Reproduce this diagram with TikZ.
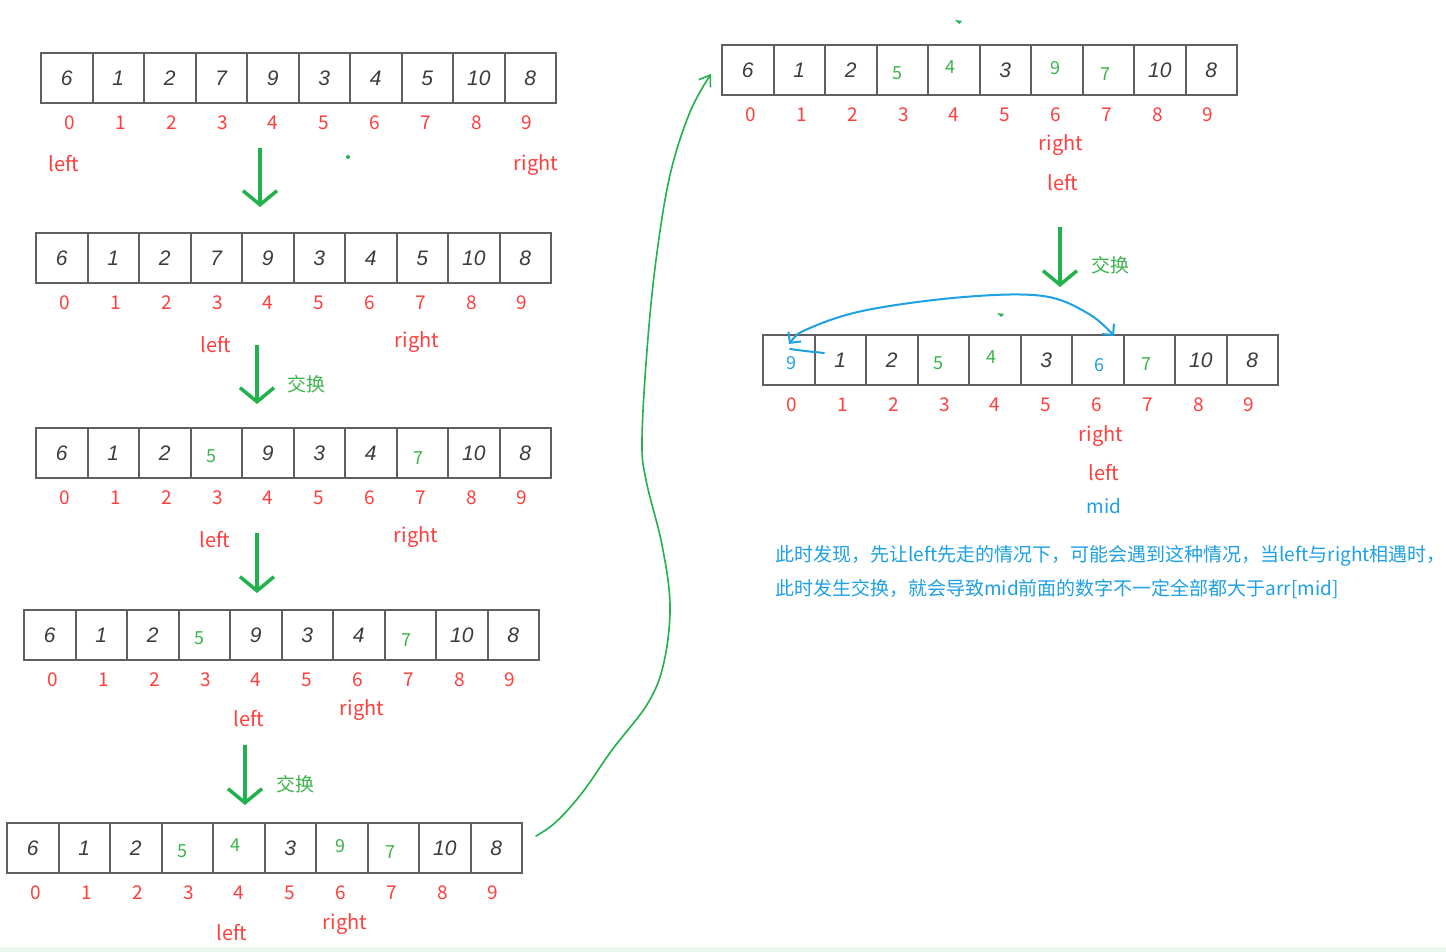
\documentclass[tikz,border=0pt]{standalone}
\usepackage{fontspec}
\setmainfont{Noto Sans CJK SC}
\newfontfamily\handfont{Liberation Sans}
\usetikzlibrary{arrows.meta,calc}
\definecolor{cred}{RGB}{255,62,62}
\definecolor{agreen}{RGB}{34,177,76}
\definecolor{dgreen}{RGB}{60,180,75}
\definecolor{cblue}{RGB}{30,160,228}
\definecolor{cellgray}{RGB}{95,95,95}
\definecolor{handgray}{RGB}{60,60,60}
\definecolor{stripe}{RGB}{232,246,238}
\tikzset{
  cell/.style={draw=cellgray, line width=2pt, minimum width=51.5pt, minimum height=50pt, inner sep=0pt},
  hd/.style={font=\handfont\itshape\fontsize{21}{21}\selectfont, text=handgray, inner sep=0pt},
  gr/.style={font=\fontsize{18}{18}\selectfont, text=dgreen, inner sep=0pt},
  bl/.style={font=\fontsize{18}{18}\selectfont, text=cblue, inner sep=0pt},
  idx/.style={font=\fontsize{19}{19}\selectfont, text=cred, inner sep=0pt},
  ptr/.style={font=\fontsize{20}{20}\selectfont, text=cred, inner sep=0pt},
  midlbl/.style={font=\fontsize{19}{19}\selectfont, text=cblue, inner sep=0pt},
  swaplbl/.style={font=\fontsize{19}{19}\selectfont, text=dgreen, inner sep=0pt},
  note/.style={font=\fontsize{19}{19}\selectfont, text=cblue, inner sep=0pt, anchor=west},
  garrow/.style={draw=agreen, line width=3.5pt, -{Straight Barb[length=14pt,width=34pt]}},
}
\newcommand\arr[4]{%
  \foreach [count=\i from 0] \v/\s/\dx/\dy in {#4} {
    \node[cell] (#1c\i) at ({#2+25.75+51.5*\i},{#3+25}) {};
    \node[\s] (#1v\i) at ({#2+25.75+51.5*\i+\dx},{#3+25+\dy}) {\v};
    \node[idx] (#1i\i) at ({#2+29+50.8*\i},{#3+70}) {\i};
  }}
\begin{document}
\begin{tikzpicture}[x=1pt,y=-1pt]
\useasboundingbox (0,0) rectangle (1446,952);
\fill[white] (0,0) rectangle (1446,952);
\fill[stripe] (0,947) rectangle (1446,952);

% arrays
\arr{a}{41}{53}{6/hd/0/0,1/hd/0/0,2/hd/0/0,7/hd/0/0,9/hd/0/0,3/hd/0/0,4/hd/0/0,5/hd/0/0,10/hd/0/0,8/hd/0/0}
\arr{b}{36}{233}{6/hd/0/0,1/hd/0/0,2/hd/0/0,7/hd/0/0,9/hd/0/0,3/hd/0/0,4/hd/0/0,5/hd/0/0,10/hd/0/0,8/hd/0/0}
\arr{c}{36}{428}{6/hd/0/0,1/hd/0/0,2/hd/0/0,5/gr/-5/3,9/hd/0/0,3/hd/0/0,4/hd/0/0,7/gr/-4/5,10/hd/0/0,8/hd/0/0}
\arr{d}{24}{610}{6/hd/0/0,1/hd/0/0,2/hd/0/0,5/gr/-5/3,9/hd/0/0,3/hd/0/0,4/hd/0/0,7/gr/-4/5,10/hd/0/0,8/hd/0/0}
\arr{e}{7}{823}{6/hd/0/0,1/hd/0/0,2/hd/0/0,5/gr/-5/3,4/gr/-3/-3,3/hd/0/0,9/gr/-1/-2,7/gr/-3/4,10/hd/0/0,8/hd/0/0}
\arr{f}{722}{45}{6/hd/0/0,1/hd/0/0,2/hd/0/0,5/gr/-5/3,4/gr/-3/-3,3/hd/0/0,9/gr/-1/-2,7/gr/-3/4,10/hd/0/0,8/hd/0/0}
\arr{g}{763}{335}{9/bl/3/3,1/hd/0/0,2/hd/0/0,5/gr/-5/3,4/gr/-3/-3,3/hd/0/0,6/bl/2/5,7/gr/-3/4,10/hd/0/0,8/hd/0/0}

% pointer labels
\node[ptr] (al) at (64,164) {left};
\node[ptr] (ar) at (536,165) {right};
\node[ptr] (bl) at (216,345) {left};
\node[ptr] (br) at (417,342) {right};
\node[ptr] (cl) at (215,540) {left};
\node[ptr] (cr) at (416,537) {right};
\node[ptr] (dl) at (249,719) {left};
\node[ptr] (dr) at (362,710) {right};
\node[ptr] (el) at (232,933) {left};
\node[ptr] (er) at (345,924) {right};
\node[ptr] (fr) at (1061,145) {right};
\node[ptr] (fl) at (1063,183) {left};
\node[ptr] (gr) at (1101,436) {right};
\node[ptr] (gl) at (1104,473) {left};
\node[midlbl] (gm) at (1104,506) {mid};

% down arrows
\coordinate (s1) at (260,148); \coordinate (t1) at (260,207);
\coordinate (s2) at (257,345); \coordinate (t2) at (257,404);
\coordinate (s3) at (257,533); \coordinate (t3) at (257,593);
\coordinate (s4) at (245,745); \coordinate (t4) at (245,805);
\coordinate (s5) at (1060,227); \coordinate (t5) at (1060,287);
\draw[garrow] (s1) -- (t1);
\draw[garrow] (s2) -- (t2);
\draw[garrow] (s3) -- (t3);
\draw[garrow] (s4) -- (t4);
\draw[garrow] (s5) -- (t5);
\node[swaplbl] (x2) at (306,384) {交换};
\node[swaplbl] (x4) at (295,784) {交换};
\node[swaplbl] (x5) at (1110,265) {交换};

% small stray marks
\fill[agreen] (348,157) circle (2pt);
\fill[agreen] (955,20) -- (962,21) -- (959,24) -- cycle;
\fill[agreen] (997,313) -- (1004,314) -- (1001,317) -- cycle;

% big green curve
\draw[agreen, line width=1.6pt, line cap=round, -{Straight Barb[length=10pt,width=14pt]}]
  plot[smooth, tension=0.6] coordinates {(536,836) (556,822) (582,793) (612,750) (648,703) (664,662) (670,605) (662,545) (646,480) (642,440) (647,350) (656,260) (670,175) (690,112) (711,74)};

% blue swap arrow
\draw[cblue, line width=2pt, line cap=round, {Straight Barb[length=8pt,width=16pt]}-{Straight Barb[length=8pt,width=16pt]}]
  plot[smooth, tension=0.6] coordinates {(789,344) (810,328) (867,310) (964,297) (1043,296) (1089,314) (1114,336)};
\draw[cblue, line width=2pt, line cap=round] (790,349) -- (805,351) -- (824,353);

% note
\node[note] (n1) at (775,556) {此时发现，先让left先走的情况下，可能会遇到这种情况，当left与right相遇时，};
\node[note] (n2) at (775,589) {此时发生交换，就会导致mid前面的数字不一定全部都大于arr[mid]};
\end{tikzpicture}
\end{document}
